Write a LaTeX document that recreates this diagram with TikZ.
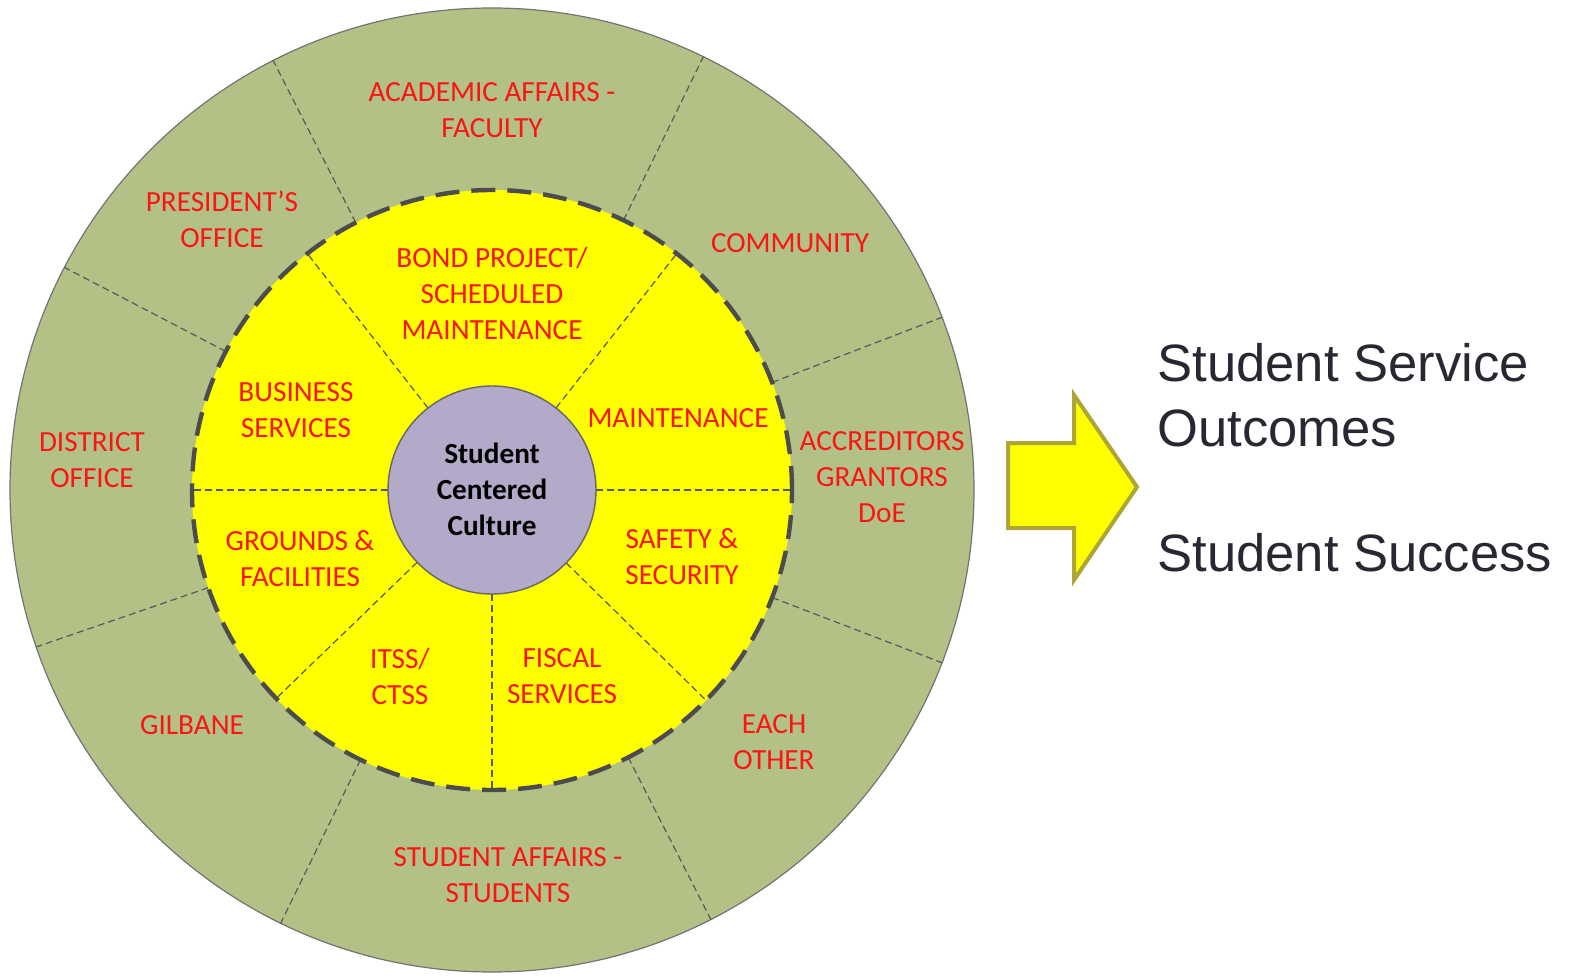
\documentclass[tikz,border=0pt]{standalone}
\usepackage{fontspec}
\setmainfont{Carlito}
\newfontfamily\arialfont{Liberation Sans}
\usetikzlibrary{positioning}

\definecolor{ringgreen}{RGB}{179,193,134}
\definecolor{coreyellow}{RGB}{255,255,0}
\definecolor{hubpurple}{RGB}{179,169,201}
\definecolor{labelred}{RGB}{250,20,20}
\definecolor{arrowolive}{RGB}{173,166,55}
\definecolor{outtext}{RGB}{40,40,50}

\begin{document}
\begin{tikzpicture}[x=0.5pt, y=0.5pt,
		divider/.style={draw=black!65, line width=0.6pt, dash pattern=on 3.5pt off 2pt},
		ringlabel/.style={text=labelred, align=center, inner sep=0pt, font=\fontsize{14.6}{18}\selectfont},
		outlabel/.style={text=outtext, align=left, inner sep=0pt, font=\arialfont\fontsize{26.3}{32.5}\selectfont}]
		\useasboundingbox (0,0) rectangle (1573,976);

		\begin{scope}[shift={(492,486)}]
		% Ytre ring
		\draw[fill=ringgreen, draw=black!55, line width=0.6pt] (0,0) circle (482);

		% Skillelinjer i ytre ring
		\draw[divider] (117:300) -- (117:482);
		\draw[divider] (64:300) -- (64:482);
		\draw[divider] (21:300) -- (21:482);
		\draw[divider] (-21:300) -- (-21:482);
		\draw[divider] (-63:300) -- (-63:482);
		\draw[divider] (-116:300) -- (-116:482);
		\draw[divider] (-161:300) -- (-161:482);
		\draw[divider] (152.5:300) -- (152.5:482);

		% Gul indre sirkel
		\fill[coreyellow] (0,0) circle (300);

		% Skillelinjer i gul sirkel
		\draw[divider] (128:104) -- (128:300);
		\draw[divider] (52:104) -- (52:300);
		\draw[divider] (0:104) -- (0:300);
		\draw[divider] (-44.5:104) -- (-44.5:300);
		\draw[divider] (-90:104) -- (-90:300);
		\draw[divider] (-136:104) -- (-136:300);
		\draw[divider] (180:104) -- (180:300);

		% Stiplet kant rundt gul sirkel
		\draw[black!70, line width=2.2pt, dash pattern=on 12pt off 6pt] (0,0) circle (300);

		% Senter
		\draw[fill=hubpurple, draw=black!60, line width=0.7pt] (0,0) circle (104);
		\node[align=center, inner sep=0pt, font=\bfseries\fontsize{14.6}{18}\selectfont] (hub) at (0,1) {Student\\Centered\\Culture};

		% Tekst i ytre ring
		\node[ringlabel] (academic) at (0,380) {ACADEMIC AFFAIRS -\\FACULTY};
		\node[ringlabel] (president) at (-270,271) {PRESIDENT’S\\OFFICE};
		\node[ringlabel] (community) at (298,247) {COMMUNITY};
		\node[ringlabel] (district) at (-400,30) {DISTRICT\\OFFICE};
		\node[ringlabel] (accreditors) at (390,13) {ACCREDITORS\\GRANTORS\\DoE};
		\node[ringlabel] (gilbane) at (-300,-235) {GILBANE};
		\node[ringlabel] (eachother) at (282,-252) {EACH\\OTHER};
		\node[ringlabel] (studaffairs) at (16,-385) {STUDENT AFFAIRS -\\STUDENTS};

		% Tekst i gul sirkel
		\node[ringlabel] (bond) at (0,197) {BOND PROJECT/\\SCHEDULED\\MAINTENANCE};
		\node[ringlabel] (business) at (-196,80) {BUSINESS\\SERVICES};
		\node[ringlabel] (maint) at (186,72) {MAINTENANCE};
		\node[ringlabel] (grounds) at (-192,-69) {GROUNDS \&\\FACILITIES};
		\node[ringlabel] (safety) at (190,-67) {SAFETY \&\\SECURITY};
		\node[ringlabel] (itss) at (-92,-186) {ITSS/\\CTSS};
		\node[ringlabel] (fiscal) at (70,-186) {FISCAL\\SERVICES};
		\end{scope}

		% Stor pil mot resultatene
		\draw[draw=arrowolive, fill=coreyellow, line width=2pt, line join=miter]
		(1008,533) -- (1074,533) -- (1074,581) -- (1137,489) -- (1074,396) -- (1074,448) -- (1008,448) -- cycle;

		% Resultater
		\node[outlabel, anchor=west] (outcomes) at (1157,581) {Student Service\\Outcomes};
		\node[outlabel, anchor=west] (success) at (1157,423) {Student Success};
	\end{tikzpicture}
\end{document}
